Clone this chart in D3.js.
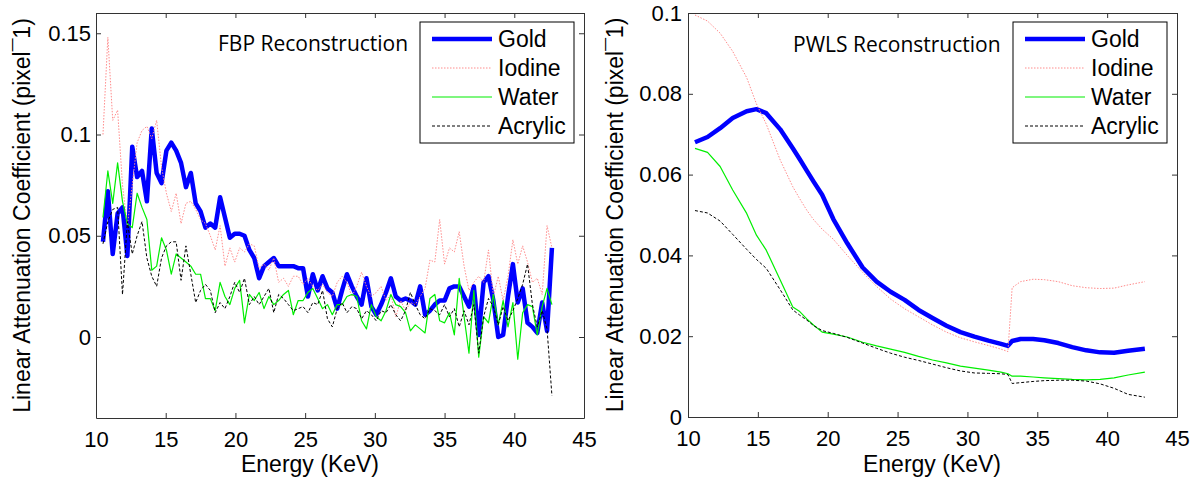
<!DOCTYPE html>
<html>
<head>
<meta charset="utf-8">
<script src="https://cdn.jsdelivr.net/npm/d3@7"></script>
<style>
    body { margin: 0; background: #fff; }
    svg text { font-family: "Liberation Sans", Arial, sans-serif; fill: #000; }
    .title { font-family: "Open Sans", "Noto Sans", sans-serif; }
</style>
</head>
<body>
<div id="main"></div>
<script>

/// Data ///

// FBP reconstruction (left panel), energy in keV
var energyFBP = [
    10.50,10.85,11.20,11.55,11.90,12.25,12.60,12.95,13.30,13.65,
    14.00,14.35,14.70,15.05,15.40,15.75,16.10,16.45,16.80,17.15,
    17.50,17.85,18.20,18.55,18.90,19.25,19.60,19.95,20.30,20.65,
    21.00,21.35,21.70,22.05,22.40,22.75,23.10,23.45,23.80,24.15,
    24.50,24.85,25.20,25.55,25.90,26.25,26.60,26.95,27.30,27.65,
    28.00,28.35,28.70,29.05,29.40,29.75,30.10,30.45,30.80,31.15,
    31.50,31.85,32.20,32.55,32.90,33.25,33.60,33.95,34.30,34.65,
    35.00,35.35,35.70,36.05,36.40,36.75,37.10,37.45,37.80,38.15,
    38.50,38.85,39.20,39.55,39.90,40.25,40.60,40.95,41.30,41.65,
    42.00,42.35,42.70
];
var goldFBP = [
    0.047,0.072,0.041,0.061,0.064,0.040,0.094,0.079,0.082,0.067,
    0.103,0.081,0.076,0.092,0.096,0.092,0.086,0.074,0.081,0.066,
    0.062,0.054,0.056,0.054,0.069,0.059,0.049,0.051,0.051,0.050,
    0.043,0.039,0.029,0.035,0.037,0.039,0.035,0.035,0.035,0.035,
    0.034,0.034,0.020,0.031,0.023,0.030,0.024,0.022,0.014,0.023,
    0.031,0.025,0.020,0.016,0.029,0.015,0.011,0.016,0.022,0.029,
    0.020,0.018,0.019,0.018,0.016,0.025,0.011,0.013,0.016,0.018,
    0.018,0.024,0.025,0.025,0.020,0.015,0.025,0.001,0.027,0.030,
    0.018,0.000,0.001,0.020,0.036,0.017,0.024,0.007,0.005,0.002,
    0.017,0.003,0.044
];
var iodineFBP = [
    0.100,0.148,0.107,0.112,0.075,0.055,0.075,0.096,0.102,0.104,
    0.098,0.107,0.084,0.071,0.062,0.071,0.056,0.066,0.067,0.063,
    0.058,0.056,0.050,0.043,0.055,0.035,0.044,0.037,0.044,0.042,
    0.046,0.045,0.034,0.036,0.033,0.039,0.027,0.029,0.025,0.030,
    0.030,0.026,0.029,0.025,0.023,0.026,0.022,0.020,0.027,0.030,
    0.027,0.020,0.025,0.032,0.025,0.020,0.022,0.025,0.018,0.021,
    0.010,0.018,0.013,0.017,0.016,0.020,0.024,0.038,0.037,0.058,
    0.036,0.044,0.042,0.052,0.035,0.023,0.027,0.030,0.027,0.043,
    0.020,0.030,0.018,0.030,0.048,0.036,0.045,0.037,0.027,0.029,
    0.021,0.055,0.044
];
var waterFBP = [
    0.059,0.082,0.066,0.086,0.067,0.056,0.054,0.071,0.064,0.058,
    0.033,0.035,0.049,0.043,0.031,0.041,0.039,0.037,0.035,0.031,
    0.031,0.019,0.019,0.013,0.027,0.020,0.016,0.024,0.028,0.007,
    0.021,0.018,0.022,0.014,0.020,0.016,0.018,0.021,0.023,0.011,
    0.018,0.018,0.022,0.024,0.019,0.014,0.016,0.011,0.016,0.016,
    0.020,0.021,0.020,0.008,0.004,0.016,0.010,0.008,0.013,0.021,
    0.016,0.015,0.012,0.003,0.006,0.004,0.002,0.019,0.021,0.008,
    0.007,0.012,0.001,0.029,0.010,-0.008,0.023,-0.010,0.010,0.007,
    0.021,0.006,0.018,0.005,0.017,-0.011,0.012,0.016,0.015,0.001,
    0.015,0.024,0.016
];
var acrylicFBP = [
    0.046,0.057,0.063,0.064,0.021,0.057,0.041,0.050,0.057,0.039,
    0.030,0.025,0.039,0.045,0.047,0.047,0.028,0.045,0.031,0.017,
    0.023,0.026,0.023,0.012,0.017,0.014,0.020,0.027,0.022,0.029,
    0.016,0.020,0.016,0.020,0.024,0.012,0.021,0.019,0.016,0.013,
    0.014,0.015,0.012,0.017,0.016,0.023,0.009,0.005,0.014,0.017,
    0.012,0.015,0.014,0.009,0.013,0.011,0.008,0.013,0.012,0.016,
    0.011,0.008,0.013,0.022,0.016,0.011,0.009,0.014,0.013,0.011,
    0.016,0.010,0.014,0.005,0.013,0.006,0.016,-0.008,0.010,0.019,
    0.015,0.006,0.015,0.008,0.013,0.019,0.026,0.036,0.016,0.005,
    0.013,0.004,-0.029
];

// PWLS reconstruction (right panel)
var energyPWLS = [
    10.5,11.4,12.3,13.2,14.2,14.9,15.6,16.6,17.5,18.0,
    18.5,19.0,19.6,20.4,21.4,22.5,23.5,24.5,25.5,26.5,
    27.5,28.5,29.5,30.5,31.5,32.4,32.9,33.2,33.8,34.7,
    35.5,36.5,37.5,38.5,39.5,40.5,41.5,42.7
];
var goldPWLS = [
    0.0680,0.0693,0.0715,0.0740,0.0757,0.0762,0.0752,0.0712,0.0665,0.0638,
    0.0610,0.0582,0.0550,0.0490,0.0430,0.0370,0.0335,0.0310,0.0290,0.0265,
    0.0245,0.0226,0.0210,0.0199,0.0189,0.0181,0.0176,0.0188,0.0193,0.0193,
    0.0190,0.0183,0.0173,0.0165,0.0160,0.0159,0.0164,0.0169
];
var iodinePWLS = [
    0.0995,0.0980,0.0950,0.0905,0.0840,0.0775,0.0725,0.0636,0.0570,0.0540,
    0.0512,0.0488,0.0465,0.0440,0.0400,0.0358,0.0323,0.0292,0.0268,0.0248,
    0.0228,0.0210,0.0196,0.0186,0.0177,0.0168,0.0162,0.0320,0.0335,0.0341,
    0.0340,0.0335,0.0325,0.0320,0.0318,0.0319,0.0327,0.0335
];
var waterPWLS = [
    0.0665,0.0655,0.0620,0.0562,0.0504,0.0450,0.0413,0.0339,0.0272,0.0261,
    0.0243,0.0227,0.0210,0.0205,0.0198,0.0185,0.0176,0.0168,0.0160,0.0150,
    0.0141,0.0134,0.0126,0.0121,0.0116,0.0111,0.0107,0.0101,0.0101,0.0099,
    0.0097,0.0095,0.0093,0.0092,0.0093,0.0097,0.0104,0.0111
];
var acrylicPWLS = [
    0.0511,0.0505,0.0485,0.0452,0.0415,0.0390,0.0368,0.0315,0.0265,0.0252,
    0.0240,0.0226,0.0214,0.0207,0.0197,0.0183,0.0170,0.0158,0.0148,0.0140,
    0.0131,0.0122,0.0114,0.0109,0.0108,0.0107,0.0105,0.0083,0.0085,0.0088,
    0.0090,0.0091,0.0091,0.0089,0.0082,0.0071,0.0056,0.0049
];

var materials = ['Gold', 'Iodine', 'Water', 'Acrylic'];
var xTicks = [10, 15, 20, 25, 30, 35, 40, 45];
var yTicksFBP = [0, 0.05, 0.1, 0.15];
var yTicksPWLS = [0, 0.02, 0.04, 0.06, 0.08, 0.1];

/// line styles, same order as materials ///
const styles = [
    { color: '#0000ff', width: 4.5, dash: null },
    { color: '#ff8c8c', width: 1,   dash: '1.5,1.5' },
    { color: '#00ee00', width: 1.2, dash: null },
    { color: '#000000', width: 1,   dash: '3,2' }
];

const w = 1198;
const h = 480;

const svg = d3.select('#main')
            .append('svg')
            .attr('width', w)
            .attr('height', h);

// draws one MATLAB-like panel with box, inward ticks, curves and legend
function drawPanel(p) {

    let x = d3.scaleLinear().domain([10, 45]).range([p.left, p.right]);
    let y = d3.scaleLinear().domain(p.yDomain).range([p.bottom, p.top]);

    let g = svg.append('g');

    // axes
    g.append('g')
        .attr('transform', `translate(0,${p.bottom})`)
        .call(d3.axisBottom(x).tickValues(xTicks).tickSizeInner(-5).tickSizeOuter(0).tickPadding(13));
    g.append('g')
        .attr('transform', `translate(0,${p.top})`)
        .call(d3.axisTop(x).tickValues(xTicks).tickSizeInner(-5).tickSizeOuter(0).tickFormat(''));
    g.append('g')
        .attr('transform', `translate(${p.left},0)`)
        .call(d3.axisLeft(y).tickValues(p.yTicks).tickSizeInner(-5).tickSizeOuter(0).tickPadding(p.yPad).tickFormat(d3.format('')));
    g.append('g')
        .attr('transform', `translate(${p.right},0)`)
        .call(d3.axisRight(y).tickValues(p.yTicks).tickSizeInner(-5).tickSizeOuter(0).tickFormat(''));

    g.selectAll('.domain, .tick line').attr('stroke', '#333');
    g.selectAll('.tick text').style('font-size', '22px').attr('fill', '#000');

    // curves
    let line = d3.line()
                .x(d => x(d[0]))
                .y(d => y(d[1]));

    p.series.forEach(function(vals, i) {
        g.append('path')
            .datum(p.energy.map((e, j) => [e, vals[j]]))
            .attr('d', line)
            .attr('fill', 'none')
            .attr('stroke', styles[i].color)
            .attr('stroke-width', styles[i].width)
            .attr('stroke-dasharray', styles[i].dash)
            .attr('stroke-linejoin', 'round');
    });

    // title inside the axes
    g.append('text')
        .attr('class', 'title')
        .attr('x', p.titleX)
        .attr('y', p.titleY)
        .style('font-size', '21px')
        .text(p.title);

    // axis labels
    g.append('text')
        .attr('x', p.xLabelX)
        .attr('y', 472)
        .attr('text-anchor', 'middle')
        .style('font-size', '23px')
        .text('Energy (KeV)');
    g.append('text')
        .attr('transform', `translate(${p.yLabelX},${(p.top + p.bottom) / 2}) rotate(-90)`)
        .attr('text-anchor', 'middle')
        .style('font-size', '23px')
        .text('Linear Attenuation Coefficient (pixel\u00AF1)');

    /// Legend ///
    let lx = p.right - 164;
    let ly = p.top + 9;
    let legend = g.append('g');
    legend.append('rect')
        .attr('x', lx)
        .attr('y', ly)
        .attr('width', 154)
        .attr('height', 121)
        .attr('fill', '#fff')
        .attr('stroke', '#000');

    let rows = legend.selectAll('.legendGroup')
                .data(materials)
                .enter()
                .append('g')
                .attr('class', 'legendGroup')
                .attr('transform', (d, i) => `translate(${lx},${ly + 17 + i * 29})`);
    rows.append('line')
        .attr('x1', 12)
        .attr('x2', 72)
        .attr('stroke', (d, i) => styles[i].color)
        .attr('stroke-width', (d, i) => styles[i].width)
        .attr('stroke-dasharray', (d, i) => styles[i].dash);
    rows.append('text')
        .attr('x', 78)
        .attr('y', 8)
        .style('font-size', '23px')
        .text(d => d);
}

drawPanel({
    left: 96, right: 584, top: 13, bottom: 418,
    yDomain: [-0.04, 0.16], yTicks: yTicksFBP, yPad: 5,
    energy: energyFBP,
    series: [goldFBP, iodineFBP, waterFBP, acrylicFBP],
    title: 'FBP Reconstruction', titleX: 218, titleY: 51,
    xLabelX: 310, yLabelX: 30
});

drawPanel({
    left: 688, right: 1177, top: 13, bottom: 417,
    yDomain: [0, 0.1], yTicks: yTicksPWLS, yPad: 6,
    energy: energyPWLS,
    series: [goldPWLS, iodinePWLS, waterPWLS, acrylicPWLS],
    title: 'PWLS Reconstruction', titleX: 793, titleY: 52,
    xLabelX: 932, yLabelX: 623
});

</script>
</body>
</html>
